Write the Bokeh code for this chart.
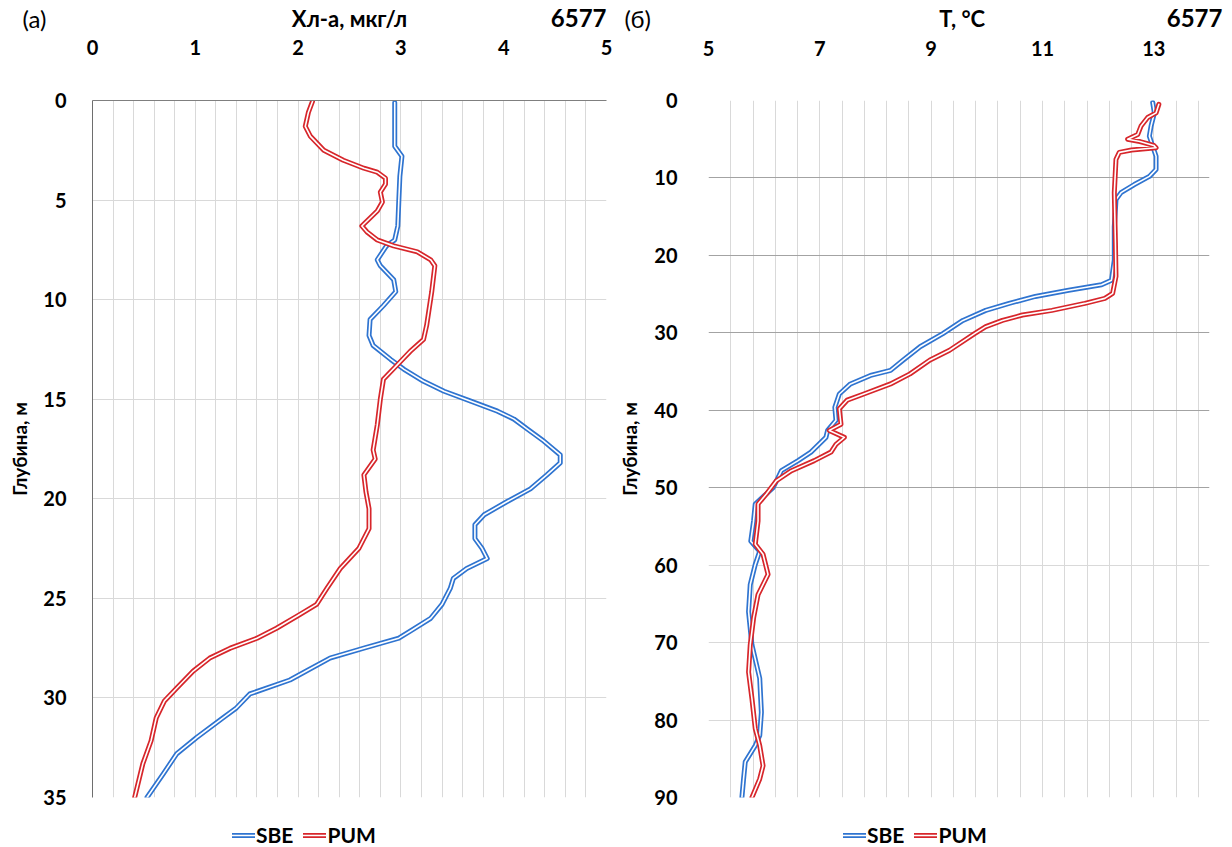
from bokeh.plotting import figure
from bokeh.models import Range1d, FixedTicker, Grid, Legend, LegendItem
from bokeh.layouts import row, column
from bokeh.core.properties import value
from bokeh.embed import file_html
from bokeh.resources import INLINE

FONT = "Lato"
BLUE = "#2f74d0"
RED = "#d7262b"
GRID = "#d9d9d9"

# --- station 6577, panel (а): chlorophyll-a, µg/l vs depth, m ---
chl_depth_sbe = [0.1, 2.3, 2.8, 3.8, 5.0, 6.3, 7.0, 7.3, 8.0, 8.3, 9.0, 9.6, 10.3, 11.0,
                 11.8, 12.3, 13.0, 13.5, 14.1, 14.6, 15.1, 15.6, 16.0, 16.5, 17.1, 17.8,
                 18.2, 18.8, 19.5, 20.15, 20.8, 21.3, 22.0, 22.5, 23.0, 23.5, 24.0, 24.5,
                 25.3, 26.0, 26.65, 27.0, 27.5, 28.0, 28.65, 29.1, 29.8, 30.5, 31.0, 32.0,
                 32.8, 33.8, 35.0]
chl_sbe = [2.94, 2.94, 3.01, 2.99, 2.98, 2.97, 2.94, 2.86, 2.77, 2.80, 2.93, 2.95, 2.83, 2.70,
           2.69, 2.73, 2.90, 3.03, 3.22, 3.42, 3.68, 3.94, 4.10, 4.23, 4.39, 4.55,
           4.55, 4.42, 4.26, 4.03, 3.81, 3.72, 3.72, 3.79, 3.84, 3.64, 3.51, 3.48,
           3.40, 3.29, 3.09, 2.98, 2.64, 2.31, 2.08, 1.92, 1.53, 1.40, 1.27, 1.01,
           0.82, 0.69, 0.53]

chl_depth_pum = [0.05, 0.6, 1.3, 1.8, 2.5, 3.0, 3.4, 3.6, 3.9, 4.2, 4.6, 5.1, 5.55, 5.9, 6.3,
                 6.6, 7.0, 7.3, 7.6, 8.0, 8.3, 9.6, 11.3, 12.0, 12.6, 13.3, 14.0, 15.0, 16.3,
                 17.55, 18.0, 18.8, 19.65, 20.5, 21.5, 22.5, 23.5, 24.5, 25.3, 25.8, 26.5,
                 27.0, 27.5, 28.0, 28.65, 29.5, 30.15, 31.0, 32.15, 33.3, 35.0]
chl_pum = [2.14, 2.10, 2.07, 2.12, 2.25, 2.44, 2.64, 2.77, 2.85, 2.85, 2.80, 2.82, 2.77, 2.70, 2.62,
           2.67, 2.77, 2.93, 3.16, 3.29, 3.33, 3.30, 3.25, 3.22, 3.09, 2.96, 2.83, 2.80, 2.77,
           2.73, 2.75, 2.64, 2.66, 2.69, 2.69, 2.59, 2.41, 2.28, 2.18, 2.02, 1.79,
           1.60, 1.34, 1.14, 0.98, 0.82, 0.70, 0.62, 0.57, 0.49, 0.41]

# --- panel (б): temperature, °C vs depth, m ---
temp_depth_sbe = [0.26, 1.6, 3.3, 4.6, 5.9, 7.2, 8.9, 9.8, 10.85, 11.9, 12.8, 16.3, 20.6, 23.2,
                  23.8, 24.5, 25.3, 26.2, 27.1, 28.4, 30.1, 31.8, 33.5, 34.85, 35.5, 36.6,
                  37.9, 39.6, 41.3, 42.6, 43.5, 45.4, 46.5, 47.8, 48.7, 50.0, 52.1, 54.3,
                  56.9, 58.2, 59.9, 62.5, 66.0, 70.3, 74.6, 79.0, 82.0, 83.3, 85.4, 87.6, 90.0]
temp_sbe = [12.98, 13.01, 12.95, 12.92, 12.98, 13.04, 13.04, 12.92, 12.65, 12.41, 12.32, 12.29,
            12.29, 12.24, 12.06, 11.47, 10.87, 10.40, 9.98, 9.57, 9.21, 8.80, 8.50, 8.27,
            7.91, 7.55, 7.35, 7.27, 7.29, 7.14, 7.11, 6.84, 6.61, 6.31, 6.25, 6.16, 5.84,
            5.81, 5.76, 5.92, 5.84, 5.75, 5.72, 5.78, 5.92, 5.95, 5.92, 5.84, 5.66, 5.63, 5.60]

temp_depth_pum = [0.5, 1.6, 2.2, 3.3, 4.4, 5.0, 5.3, 5.8, 6.1, 6.4, 6.7, 7.6, 11.9, 18.4, 22.7,
                  24.9, 25.55, 26.2, 27.1, 27.7, 28.4, 29.2, 30.1, 32.25, 33.5, 35.3, 36.6,
                  37.9, 38.7, 39.8, 41.8, 42.6, 43.5, 44.4, 45.4, 46.5, 47.8, 49.1, 50.8, 52.1,
                  54.3, 57.3, 58.6, 61.2, 63.8, 66.8, 70.3, 73.8, 77.2, 81.1, 83.3, 85.9, 87.6,
                  90.0]
temp_pum = [13.09, 13.04, 12.89, 12.77, 12.71, 12.53, 12.75, 13.00, 13.04, 12.60, 12.38, 12.32,
            12.29, 12.31, 12.32, 12.26, 12.12, 11.76, 11.17, 10.64, 10.28, 9.98, 9.78, 9.33,
            8.98, 8.62, 8.27, 7.79, 7.49, 7.35, 7.38, 7.17, 7.44, 7.29, 7.20, 6.90, 6.49, 6.22,
            6.04, 5.89, 5.89, 5.84, 5.98, 6.07, 5.89, 5.81, 5.75, 5.72, 5.78, 5.84, 5.92,
            5.98, 5.92, 5.78]

chl_ticks = [0, 1, 2, 3, 4, 5]
chl_depth_ticks = [0, 5, 10, 15, 20, 25, 30, 35]
temp_ticks = [5, 7, 9, 11, 13]
temp_depth_ticks = [0, 10, 20, 30, 40, 50, 60, 70, 80, 90]
station = "6577"

# page geometry: heading strip, plot row, legend strip
HEAD_H, FOOT_H, TOTAL_H, FRAME_TOP = 32, 38, 847, 100
BOTTOM_PAD = 12     # room under each frame for the last depth label
W1, W2 = 615, 617
L1, R1 = 92, 9      # borders around the chlorophyll frame
L2, R2 = 88, 23     # borders around the temperature frame
chl_lim = (0, 5)
temp_lim = (5, 14)


def strip_range(lim, left, right, width):
    # x range of a strip that lines up with a plot frame of the same width/borders
    per_px = (lim[1] - lim[0]) / (width - left - right)
    return Range1d(lim[0] - left * per_px, lim[1] + right * per_px)


def strip(width, height, x_range):
    s = figure(width=width, height=height, x_range=x_range, y_range=Range1d(height, 0),
               x_axis_location=None, y_axis_location=None, output_backend="svg",
               toolbar_location=None, min_border=0)
    s.title.text_font_size = "0px"
    s.title.standoff = 0
    s.grid.visible = False
    s.outline_line_color = None
    s.background_fill_color = "white"
    s.border_fill_color = "white"
    return s


def caption(s, x, y, text, size, style, align):
    s.text(x=[x], y=[y], text=[text], text_font=value(FONT), text_font_size=size,
           text_font_style=style, text_align=align, text_baseline="middle",
           text_color="black")


def double_line(p, x, y, color, visible=True):
    # coloured band with a thin white core, like a compound "double" stroke
    outer = p.line(x, y, line_color=color, line_width=5, line_join="round", line_cap="round",
                   visible=visible)
    inner = p.line(x, y, line_color="white", line_width=1.6, line_join="round",
                   line_cap="round", visible=visible)
    return [outer, inner]


def make_panel(x_range, y_range, xticks, yticks, left, right, width,
               tick_standoff, y_standoff, ylabel_standoff):
    p = figure(width=width, height=TOTAL_H - HEAD_H - FOOT_H, x_range=x_range, y_range=y_range,
               x_axis_location="above", output_backend="svg", toolbar_location=None,
               min_border_left=left, min_border_right=right,
               min_border_top=FRAME_TOP - HEAD_H, min_border_bottom=BOTTOM_PAD)
    p.title.text_font_size = "0px"
    p.title.standoff = 0
    p.outline_line_color = None
    p.background_fill_color = "white"
    p.border_fill_color = "white"
    for ax in (p.xaxis[0], p.yaxis[0]):
        ax.major_label_text_font = FONT
        ax.major_label_text_font_style = "bold"
        ax.major_label_text_font_size = "20px"
        ax.major_label_text_color = "black"
        ax.major_tick_line_color = None
        ax.minor_tick_line_color = None
        ax.major_tick_out = 0
        ax.major_tick_in = 0
    xa, ya = p.xaxis[0], p.yaxis[0]
    xa.ticker = FixedTicker(ticks=xticks)
    xa.major_label_standoff = tick_standoff
    ya.ticker = FixedTicker(ticks=yticks)
    ya.major_label_standoff = y_standoff
    ya.axis_label = "Глубина, м"
    ya.axis_label_text_font = FONT
    ya.axis_label_text_font_style = "bold"
    ya.axis_label_text_font_size = "19px"
    ya.axis_label_text_color = "black"
    ya.axis_label_standoff = ylabel_standoff
    return p


def legend_strip(width, x_range, swatch_x, sbe_xy, pum_xy):
    # legend row under a panel; the series are repeated here (hidden) to give the swatches
    f = strip(width, FOOT_H, x_range)
    sbe = double_line(f, sbe_xy[0], sbe_xy[1], BLUE, visible=False)
    pum = double_line(f, pum_xy[0], pum_xy[1], RED, visible=False)
    leg = Legend(items=[LegendItem(label="SBE", renderers=sbe),
                        LegendItem(label="PUM", renderers=pum)],
                 orientation="horizontal", location=(swatch_x, 0),
                 border_line_color=None, background_fill_alpha=0,
                 inactive_fill_alpha=0,
                 label_text_font=FONT, label_text_font_style="bold",
                 label_text_font_size="21px", label_text_color="black",
                 glyph_width=23, glyph_height=20,
                 label_standoff=1, spacing=10, padding=0, margin=0)
    f.add_layout(leg)
    return f


# ---------- panel (а) ----------
xr1 = strip_range(chl_lim, L1, R1, W1)
h1 = strip(W1, HEAD_H, xr1)
caption(h1, -0.565, 18, "(а)", "24px", "normal", "center")
caption(h1, 2.5, 18, "Хл-а, мкг/л", "22px", "bold", "center")
caption(h1, 5.0, 17, station, "24px", "bold", "right")

p1 = make_panel(Range1d(*chl_lim), Range1d(35, 0), chl_ticks, chl_depth_ticks,
                L1, R1, W1, tick_standoff=46, y_standoff=26, ylabel_standoff=9)
p1.xaxis[0].axis_line_color = "#7f7f7f"
p1.yaxis[0].axis_line_color = "#6e6e6e"
p1.xgrid.ticker = FixedTicker(ticks=[round(0.2 * i, 1) for i in range(1, 26)])
p1.xgrid.grid_line_color = GRID
p1.ygrid.ticker = FixedTicker(ticks=chl_depth_ticks[1:])
p1.ygrid.grid_line_color = GRID
double_line(p1, chl_sbe, chl_depth_sbe, BLUE)
double_line(p1, chl_pum, chl_depth_pum, RED)

f1 = legend_strip(W1, xr1, 232, (chl_sbe, chl_depth_sbe), (chl_pum, chl_depth_pum))

# ---------- panel (б) ----------
xr2 = strip_range(temp_lim, L2, R2, W2)
h2 = strip(W2, HEAD_H, xr2)
caption(h2, 3.83, 18, "(б)", "24px", "normal", "center")
caption(h2, 9.6, 18, "T, °C", "22px", "bold", "center")
caption(h2, 14.23, 17, station, "24px", "bold", "right")

p2 = make_panel(Range1d(*temp_lim), Range1d(90, 0), temp_ticks, temp_depth_ticks,
                L2, R2, W2, tick_standoff=45, y_standoff=31, ylabel_standoff=10)
p2.xaxis[0].axis_line_color = None
p2.yaxis[0].axis_line_color = None
p2.xgrid.ticker = FixedTicker(ticks=[round(5 + 0.4 * i, 1) for i in range(0, 23)])
p2.xgrid.grid_line_color = GRID
p2.ygrid.ticker = FixedTicker(ticks=[0, 60, 70, 80, 90])
p2.ygrid.grid_line_color = GRID
p2.add_layout(Grid(dimension=1, ticker=FixedTicker(ticks=[10, 20, 30, 40, 50]),
                   grid_line_color="#a3a3a3"))
double_line(p2, temp_sbe, temp_depth_sbe, BLUE)
double_line(p2, temp_pum, temp_depth_pum, RED)

f2 = legend_strip(W2, xr2, 228, (temp_sbe, temp_depth_sbe), (temp_pum, temp_depth_pum))

layout = column(row(h1, h2), row(p1, p2), row(f1, f2))
open("out.html", "w").write(file_html(layout, INLINE))
